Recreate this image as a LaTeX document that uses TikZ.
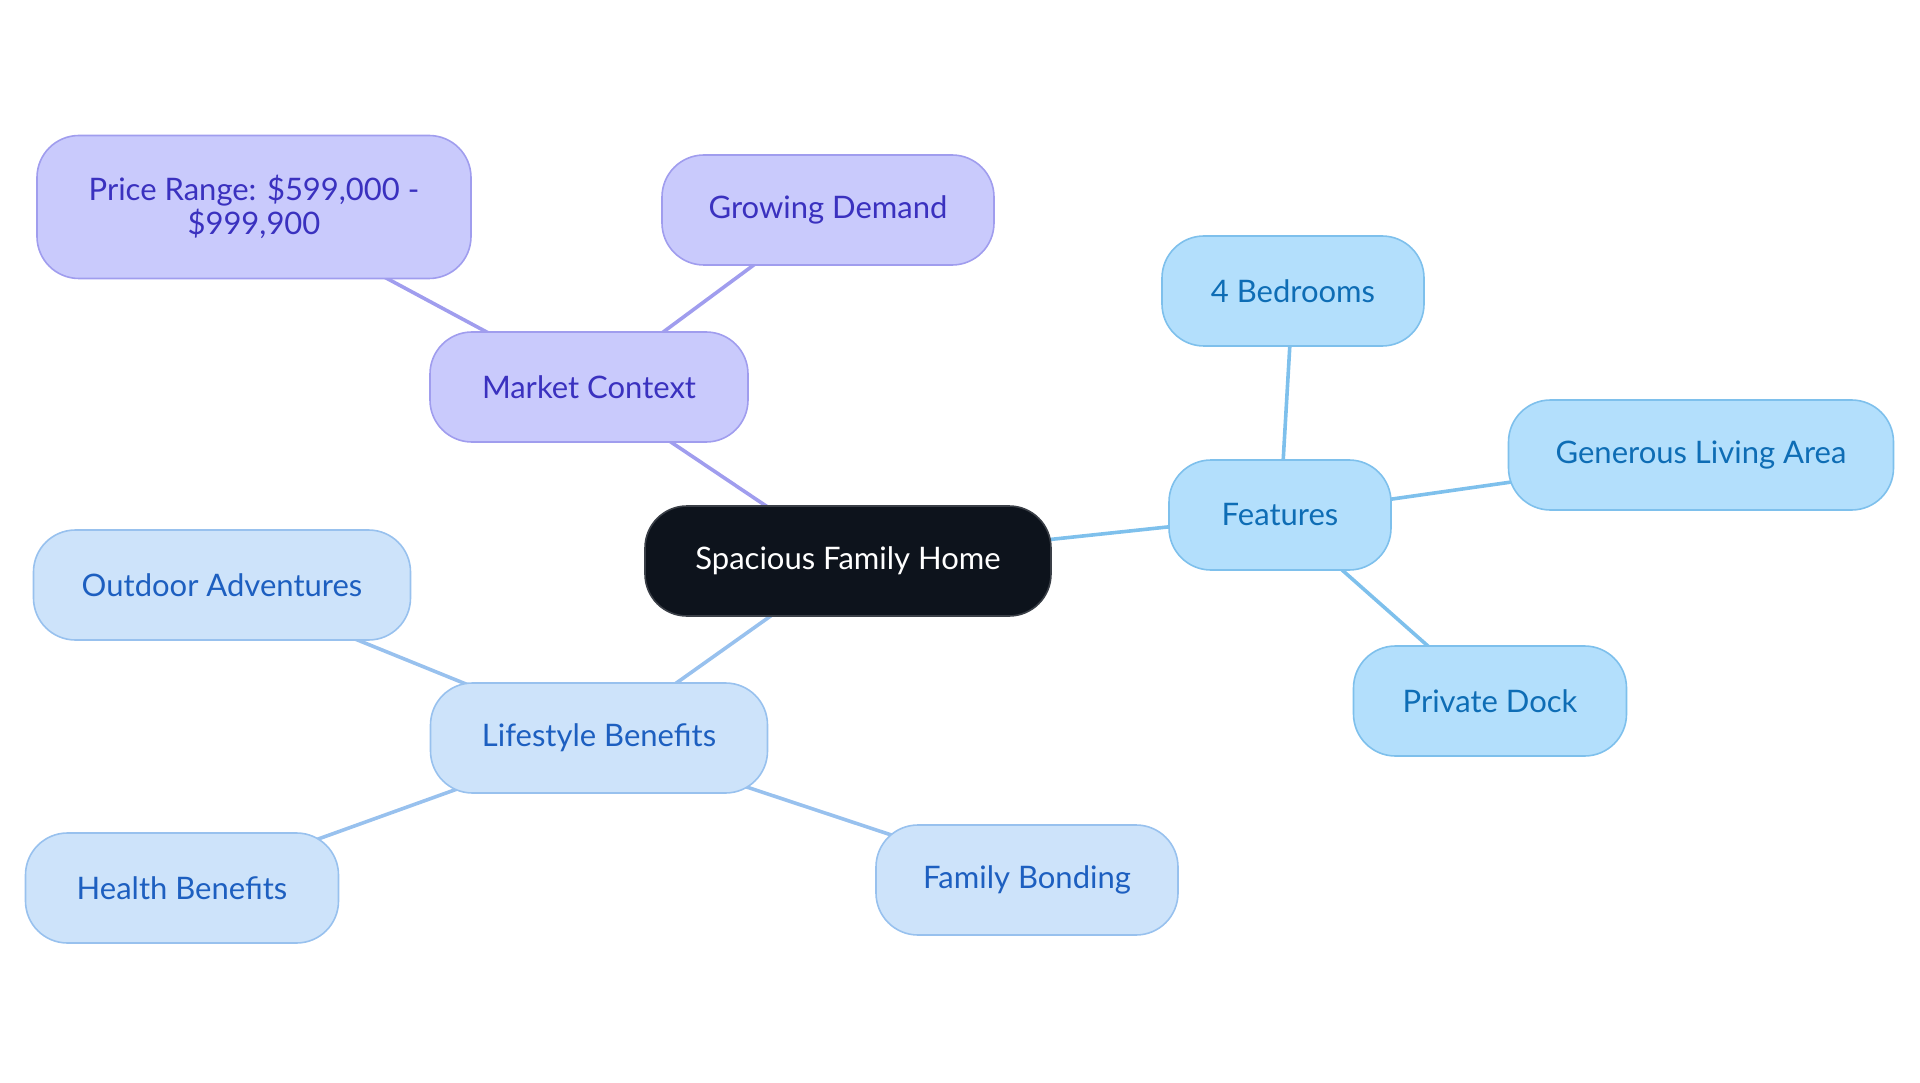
\documentclass[tikz,border=0pt]{standalone}
\usepackage{fontspec}
\setmainfont{Lato}
\usetikzlibrary{backgrounds}
\definecolor{rootfill}{HTML}{0D131C}
\definecolor{rootline}{HTML}{3A3F47}
\definecolor{mktfill}{HTML}{C9CAFC}
\definecolor{mktline}{HTML}{A09DEE}
\definecolor{mkttext}{HTML}{3A31BF}
\definecolor{featfill}{HTML}{B3DFFC}
\definecolor{featline}{HTML}{7EC0EC}
\definecolor{feattext}{HTML}{0E6DB5}
\definecolor{lifefill}{HTML}{CDE3FA}
\definecolor{lifeline}{HTML}{98C1EE}
\definecolor{lifetext}{HTML}{1D5FC0}
\begin{document}
\begin{tikzpicture}[x=1pt,y=-1pt,font=\fontsize{31}{34}\selectfont,
  box/.style={rounded corners=42pt,minimum height=110pt,line width=1.6pt,
    align=center,inner sep=0pt},
  rootbox/.style={box,fill=rootfill,draw=rootline,text=white},
  mktbox/.style={box,fill=mktfill,draw=mktline,text=mkttext},
  featbox/.style={box,fill=featfill,draw=featline,text=feattext},
  lifebox/.style={box,fill=lifefill,draw=lifeline,text=lifetext},
  link/.style={line width=3.6pt}]
  \useasboundingbox (0,0) rectangle (1920,1083);
  % centre
  \node[rootbox,minimum width=406pt] (home) at (848,561) {Spacious Family Home};
  % market context
  \node[mktbox,minimum width=318pt] (market) at (589,387) {Market Context};
  \node[mktbox,minimum width=434pt,minimum height=143pt] (price) at (254,207)
    {Price Range: \$599,000 -\\\$999,900};
  \node[mktbox,minimum width=332pt] (demand) at (828,210) {Growing Demand};
  % features
  \node[featbox,minimum width=222pt] (feat) at (1280,515) {Features};
  \node[featbox,minimum width=262pt] (bed) at (1293,291) {4 Bedrooms};
  \node[featbox,minimum width=385pt] (living) at (1701,455) {Generous Living Area};
  \node[featbox,minimum width=273pt] (dock) at (1490,701) {Private Dock};
  % lifestyle
  \node[lifebox,minimum width=337pt] (life) at (599,738) {Lifestyle Benefits};
  \node[lifebox,minimum width=377pt] (outdoor) at (222,585) {Outdoor Adventures};
  \node[lifebox,minimum width=313pt] (health) at (182,888) {Health Benefits};
  \node[lifebox,minimum width=302pt] (bond) at (1027,880) {Family Bonding};
  \begin{scope}[on background layer]
    \draw[link,mktline] (home.center) -- (market.center)
      (market.center) -- (price.center) (market.center) -- (demand.center);
    \draw[link,featline] (home.center) -- (feat.center)
      (feat.center) -- (bed.center) (feat.center) -- (living.center)
      (feat.center) -- (dock.center);
    \draw[link,lifeline] (home.center) -- (life.center)
      (life.center) -- (outdoor.center) (life.center) -- (health.center)
      (life.center) -- (bond.center);
  \end{scope}
\end{tikzpicture}
\end{document}
